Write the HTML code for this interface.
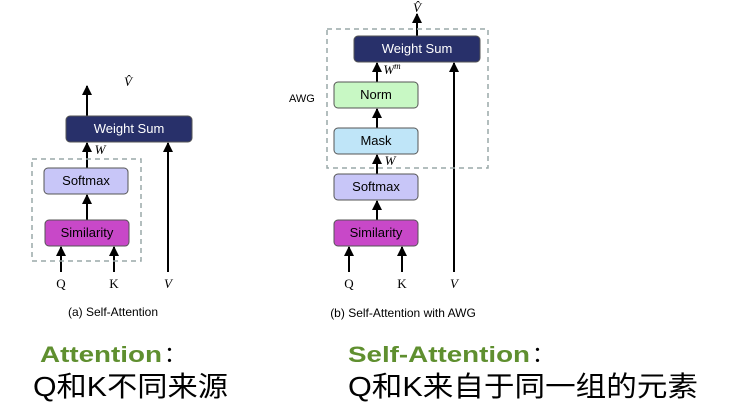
<!DOCTYPE html>
<html><head><meta charset="utf-8"><style>html,body{margin:0;padding:0;background:#fff}svg{display:block}</style></head>
<body>
<svg width="756" height="412" viewBox="0 0 756 412" xmlns="http://www.w3.org/2000/svg" font-family="Liberation Sans, sans-serif">
<defs><marker id="a" viewBox="0 0 10 10" refX="9" refY="5" markerWidth="5" markerHeight="5" orient="auto"><path d="M0,0L10,5L0,10z" fill="#000"/></marker></defs>
<rect width="756" height="412" fill="#fff"/>
<g stroke="#000" stroke-width="2" marker-end="url(#a)" fill="none">
<!-- left -->
<line x1="87" y1="116" x2="87" y2="86"/>
<line x1="87" y1="168" x2="87" y2="143"/>
<line x1="87" y1="220" x2="87" y2="195"/>
<line x1="61" y1="272" x2="61" y2="247"/>
<line x1="114" y1="272" x2="114" y2="247"/>
<line x1="168" y1="272" x2="168" y2="143"/>
<!-- right -->
<line x1="417" y1="36" x2="417" y2="14"/>
<line x1="377" y1="82" x2="377" y2="63"/>
<line x1="377" y1="128" x2="377" y2="109"/>
<line x1="377" y1="174" x2="377" y2="155"/>
<line x1="377" y1="220" x2="377" y2="201"/>
<line x1="349" y1="272" x2="349" y2="247"/>
<line x1="402" y1="272" x2="402" y2="247"/>
<line x1="454" y1="272" x2="454" y2="63"/>
</g>
<g fill="none" stroke="#9aa8a8" stroke-width="1.5" stroke-dasharray="5,4">
<rect x="32" y="159" width="109" height="102"/>
<rect x="327" y="29" width="161" height="139"/>
</g>
<g stroke="#555" stroke-width="1">
<rect x="66" y="116" width="126" height="26" rx="4" fill="#28306a"/>
<rect x="44" y="168" width="84" height="26" rx="4" fill="#c8c6f8"/>
<rect x="45" y="220" width="84" height="26" rx="4" fill="#c848c8"/>
<rect x="354" y="36" width="126" height="26" rx="4" fill="#28306a"/>
<rect x="334" y="82" width="84" height="26" rx="4" fill="#c8f8c4"/>
<rect x="334" y="128" width="84" height="26" rx="4" fill="#bfe5f8"/>
<rect x="334" y="174" width="84" height="26" rx="4" fill="#c8c6f8"/>
<rect x="334" y="220" width="84" height="26" rx="4" fill="#c848c8"/>
</g>
<g font-size="13" text-anchor="middle">
<text x="129" y="133" fill="#fff">Weight Sum</text>
<text x="86" y="185">Softmax</text>
<text x="87" y="237">Similarity</text>
<text x="417" y="53" fill="#fff">Weight Sum</text>
<text x="376" y="99">Norm</text>
<text x="376" y="145">Mask</text>
<text x="376" y="191">Softmax</text>
<text x="376" y="237">Similarity</text>
</g>
<g font-family="Liberation Serif, serif" font-size="13" text-anchor="middle">
<text x="61" y="288">Q</text><text x="114" y="288">K</text><text x="168" y="288" font-style="italic">V</text>
<text x="128" y="86" font-style="italic">V̂</text>
<text x="100" y="154" font-style="italic">W</text>
<text x="349" y="288">Q</text><text x="402" y="288">K</text><text x="454" y="288" font-style="italic">V</text>
<text x="417" y="12" font-style="italic">V̂</text>
<text x="392" y="74" font-style="italic">W<tspan font-size="9" dy="-5">m</tspan></text>
<text x="390" y="165" font-style="italic">W</text>
</g>
<text x="289" y="102" font-size="11">AWG</text>
<text x="113" y="316" font-size="12" text-anchor="middle">(a) Self-Attention</text>
<text x="403" y="317" font-size="12" text-anchor="middle">(b) Self-Attention with AWG</text>
<g font-weight="bold" font-size="22" fill="#5f8f2f">
<text x="40" y="362" textLength="122" lengthAdjust="spacingAndGlyphs">Attention</text>
<text x="348" y="362" textLength="182" lengthAdjust="spacingAndGlyphs">Self-Attention</text>
</g>
<text x="164" y="362" font-size="22" font-family="Noto Sans CJK SC, sans-serif">：</text>
<text x="532" y="362" font-size="22" font-family="Noto Sans CJK SC, sans-serif">：</text>
<g font-size="28" font-family="Liberation Sans, Noto Sans CJK SC, sans-serif">
<text x="33" y="396" textLength="195" lengthAdjust="spacingAndGlyphs">Q和K不同来源</text>
<text x="348" y="396" textLength="350" lengthAdjust="spacingAndGlyphs">Q和K来自于同一组的元素</text>
</g>
</svg>
</body></html>
